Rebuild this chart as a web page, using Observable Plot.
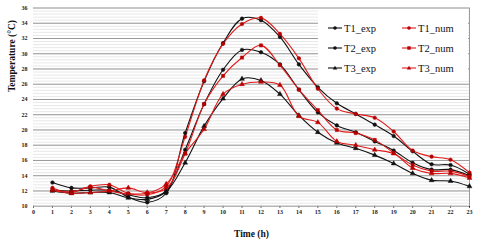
<!DOCTYPE html>
<html><head><meta charset="utf-8">
<script src="https://cdn.jsdelivr.net/npm/d3@7"></script>
<script src="https://cdn.jsdelivr.net/npm/@observablehq/plot@0.6"></script>
<style>
body{margin:0;background:#fff;}
#wrap{position:relative;width:480px;height:247px;font-family:"Liberation Serif","Times New Roman",serif;}
#legend{position:absolute;left:318px;top:9px;width:150px;height:72px;background:#fff;}
.item{position:absolute;display:flex;align-items:center;font-size:10.5px;color:#111;height:14px;}
.item svg{margin-right:2px;}
</style></head><body><div id="wrap"></div>
<script>
const hours = [1,2,3,4,5,6,7,8,9,10,11,12,13,14,15,16,17,18,19,20,21,22,23];
const T1_exp = [13.1,12.4,12.4,12.5,11.2,10.5,11.7,19.6,26.4,31.4,34.6,34.4,32.2,28.6,25.6,23.5,22.1,20.7,19.2,17.2,15.5,15.4,14.2];
const T1_num = [12.4,11.8,12.6,12.8,11.7,11.5,12.6,19.1,26.5,31.3,33.9,34.7,32.6,29.4,25.4,22.8,22.1,21.6,19.8,17.3,16.5,16.1,14.4];
const T2_exp = [12.1,12.0,12.1,12.1,11.5,11.1,12.0,17.4,23.4,27.9,30.5,30.2,28.6,25.3,22.3,20.6,19.7,18.5,17.3,15.7,14.8,14.8,14.0];
const T2_num = [12.2,11.9,12.5,12.0,11.6,11.7,12.3,16.9,23.4,27.1,29.5,31.1,28.5,25.3,22.6,20.0,19.6,18.7,17.0,15.4,14.6,14.6,13.9];
const T3_exp = [12.0,11.7,11.8,11.8,11.1,10.9,11.9,15.7,20.5,24.1,26.7,26.5,24.7,21.9,19.7,18.3,17.6,16.7,15.6,14.3,13.4,13.3,12.6];
const T3_num = [12.1,11.7,11.8,12.0,12.4,11.8,12.9,16.9,20.1,24.7,26.0,26.3,25.9,21.8,21.0,18.5,18.0,17.4,16.9,15.0,14.3,14.3,13.7];
const seriesNames = ["T1_exp","T1_num","T2_exp","T2_num","T3_exp","T3_num"];
const seriesValues = [T1_exp,T1_num,T2_exp,T2_num,T3_exp,T3_num];
const seriesColors = ["#111111","#e01b1b","#111111","#e01b1b","#111111","#e01b1b"];
const markerFill = ["#111111","#b80000","#111111","#b80000","#111111","#b80000"];
const seriesSymbols = ["circle","circle","circle","square","triangle","triangle"];
const xTicks = [0,1,2,3,4,5,6,7,8,9,10,11,12,13,14,15,16,17,18,19,20,21,22,23];
const yTicks = [10,12,14,16,18,20,22,24,26,28,30,32,34,36];
const minorTicks = d3.range(10, 36.001, 0.4);

const data = [];
seriesNames.forEach((s,i) => hours.forEach((h,j) => data.push({series:s, hour:h, value:seriesValues[i][j], stroke:seriesColors[i], fill:markerFill[i]})));

const chart = Plot.plot({
  width: 480, height: 247,
  marginLeft: 33, marginRight: 11, marginTop: 7.5, marginBottom: 41.3,
  style: {fontFamily: "'Liberation Serif','Times New Roman',serif", fontSize: "6px", fontWeight: "bold", background: "#fff", color: "#222"},
  x: {domain: [0,23], ticks: xTicks, tickSize: 2, tickPadding: 2, label: null},
  y: {domain: [10,36], ticks: yTicks, tickSize: 0, tickPadding: 6, label: null},
  color: {type: "identity"},
  symbol: {domain: seriesNames, range: seriesSymbols},
  marks: [
    Plot.ruleY(minorTicks, {stroke: "#e2e2e2", strokeWidth: 0.8}),
    Plot.ruleY(yTicks, {stroke: "#9a9a9a", strokeWidth: 1}),
    Plot.ruleX([23], {stroke: "#9a9a9a", strokeWidth: 1}),
    Plot.line(data, {x: "hour", y: "value", z: "series", stroke: "stroke", strokeWidth: 1.1, curve: "catmull-rom"}),
    Plot.dot(data, {x: "hour", y: "value", symbol: "series", fill: "fill", stroke: "fill", strokeWidth: 0.5, r: 1.8}),
    Plot.text(["Time (h)"], {frameAnchor: "bottom", dy: 31, fontSize: 9.5, fontWeight: "bold", fill: "#111"}),
    Plot.text(["Temperature (°C)"], {frameAnchor: "left", rotate: -90, dx: -22, dy: -15, fontSize: 9.5, fontWeight: "bold", fill: "#111"})
  ]
});
const wrap = document.getElementById("wrap");
wrap.appendChild(chart);

const legend = document.createElement("div");
legend.id = "legend";
wrap.appendChild(legend);
const symPath = {circle: '<circle cx="7" cy="4" r="1.8"/>', square: '<rect x="5.3" y="2.3" width="3.4" height="3.4"/>', triangle: '<path d="M7,1.8 L9.2,5.6 L4.8,5.6 Z"/>'};
seriesNames.forEach((s,i) => {
  const row = Math.floor(i/2), col = i%2;
  const d = document.createElement("div");
  d.className = "item";
  d.style.left = (col === 0 ? 10 : 84) + "px";
  d.style.top = (12 + row*20) + "px";
  d.innerHTML = `<svg width="14" height="8"><line x1="0" y1="4" x2="14" y2="4" stroke="${seriesColors[i]}" stroke-width="1.1"/><g fill="${markerFill[i]}">${symPath[seriesSymbols[i]]}</g></svg><span>${s}</span>`;
  legend.appendChild(d);
});
</script>
</body></html>
